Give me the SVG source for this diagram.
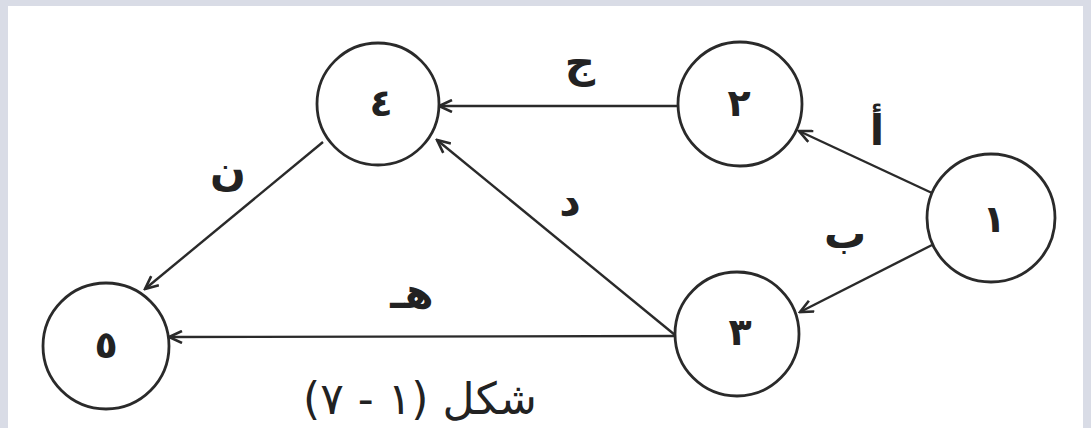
<svg xmlns="http://www.w3.org/2000/svg" width="1091" height="428" viewBox="0 0 1091 428">
<style>
.node circle{fill:#fff;stroke:#2a2a2a;stroke-width:2.8}
.num{font-family:"DejaVu Sans",sans-serif;font-size:38px;font-weight:bold;fill:#222;text-anchor:middle;dominant-baseline:central}
.edge{stroke:#2a2a2a;stroke-width:2.4;fill:none;marker-end:url(#arr)}
.lbl{font-family:"DejaVu Sans",sans-serif;font-size:42px;font-weight:bold;fill:#222;text-anchor:middle}
.cap{font-family:"DejaVu Sans",sans-serif;font-size:44px;fill:#222;text-anchor:middle}
</style>
<defs>
<marker id="arr" markerUnits="userSpaceOnUse" markerWidth="18" markerHeight="14" viewBox="0 0 18 14" refX="16" refY="7" orient="auto">
<path d="M3,1 L16,7 L3,13" fill="none" stroke="#2a2a2a" stroke-width="2.6"/>
</marker>
</defs>
<rect x="0" y="0" width="1091" height="428" fill="#d9dce6"/>
<rect x="8" y="6" width="1075" height="422" fill="#ffffff"/>
<g id="connectors">
<line class="edge" x1="677" y1="106" x2="439" y2="106"/>
<line class="edge" x1="932" y1="193" x2="799" y2="131"/>
<line class="edge" x1="932" y1="245" x2="800" y2="312"/>
<line class="edge" x1="675" y1="335" x2="437" y2="140"/>
<line class="edge" x1="675" y1="336" x2="169" y2="337"/>
<line class="edge" x1="323" y1="142" x2="145" y2="289"/>
<text class="lbl" x="580" y="77">ج</text>
<text class="lbl" x="877" y="145">أ</text>
<text class="lbl" x="845" y="248">ب</text>
<text class="lbl" x="570" y="215">د</text>
<text class="lbl" x="412" y="308">هـ</text>
<text class="lbl" x="228" y="185">ن</text>
</g>
<g id="node1" class="node"><circle cx="991" cy="218" r="64"/><text class="num" x="994" y="219">١</text></g>
<g id="node2" class="node"><circle cx="740" cy="104" r="62"/><text class="num" x="739" y="103">٢</text></g>
<g id="node3" class="node"><circle cx="737" cy="334" r="62"/><text class="num" x="740" y="332">٣</text></g>
<g id="node4" class="node"><circle cx="378" cy="104" r="61"/><text class="num" x="381" y="103">٤</text></g>
<g id="node5" class="node"><circle cx="106" cy="346" r="63"/><text class="num" x="106" y="345">٥</text></g>
<text class="cap" x="420" y="414">شكل (١ - ٧)</text>
</svg>
